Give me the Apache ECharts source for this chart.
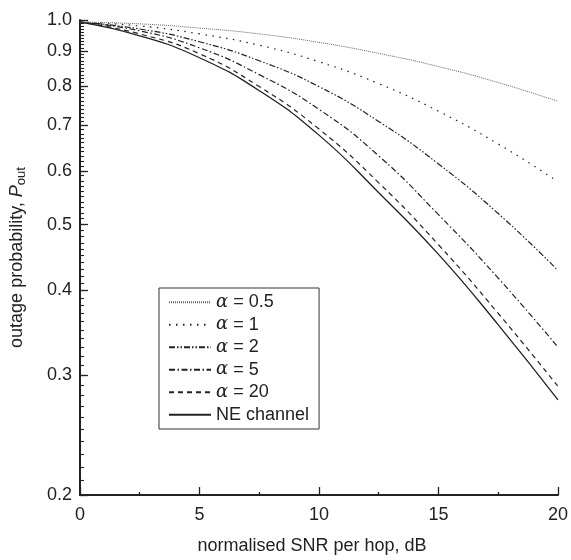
<!DOCTYPE html>
<html><head><meta charset="utf-8">
<script src="https://cdn.jsdelivr.net/npm/echarts@6/dist/echarts.min.js"></script>
<style>html,body{margin:0;padding:0;background:#fff}#c{width:571px;height:560px}</style>
</head><body><div id="c"></div>
<script>
const snr = [0, 2.5, 5, 7.5, 10, 12.5, 15, 17.5, 20];
const alpha05 = [0.993, 0.987, 0.973, 0.954, 0.927, 0.893, 0.854, 0.809, 0.759];
const alpha1 = [0.993, 0.980, 0.954, 0.918, 0.868, 0.806, 0.734, 0.657, 0.578];
const alpha2 = [0.993, 0.970, 0.929, 0.871, 0.798, 0.709, 0.614, 0.519, 0.428];
const alpha5 = [0.993, 0.964, 0.910, 0.831, 0.739, 0.631, 0.517, 0.417, 0.330];
const alpha20 = [0.993, 0.954, 0.892, 0.798, 0.691, 0.576, 0.467, 0.370, 0.289];
const neChannel = [0.993, 0.948, 0.880, 0.787, 0.677, 0.557, 0.452, 0.356, 0.276];
const seriesNames = ['α = 0.5', 'α = 1', 'α = 2', 'α = 5', 'α = 20', 'NE channel'];
const yMajorTicks = [0.2, 0.3, 0.4, 0.5, 0.6, 0.7, 0.8, 0.9, 1.0];

const yMinorTicks = [];
for (let k = 20; k <= 100; k++) yMinorTicks.push(k / 100);

const FONT = '"Liberation Sans", Arial, sans-serif';
const INK = '#222';
const styles = [
  {color: '#666', width: 1, type: [1, 1]},
  {color: INK, width: 1.2, type: [1.5, 5.5]},
  {color: INK, width: 1.2, type: [6, 2, 1.5, 2, 1.5, 2]},
  {color: INK, width: 1.2, type: [6, 2.5, 1.5, 2.5]},
  {color: INK, width: 1.2, type: [5, 4]},
  {color: INK, width: 1.3, type: 'solid'}
];
const dataSets = [alpha05, alpha1, alpha2, alpha5, alpha20, neChannel];

const chart = echarts.init(document.getElementById('c'), null, {renderer: 'canvas'});
const baseY = {
  type: 'log', logBase: 10, min: 0.2, max: 1.0, position: 'left', offset: 0,
  splitLine: {show: false}
};
chart.setOption({
  animation: false,
  backgroundColor: '#fff',
  textStyle: {fontFamily: FONT},
  grid: {left: 80, right: 11, top: 20, bottom: 62, containLabel: false},
  legend: {
    orient: 'vertical', left: 159, top: 288,
    data: seriesNames,
    itemWidth: 42, itemHeight: 14, itemGap: 0,
    itemStyle: {opacity: 0},
    borderColor: '#333', borderWidth: 1, borderRadius: 0,
    padding: [3, 10, 3, 9],
    textStyle: {fontSize: 18, color: INK, fontFamily: FONT, lineHeight: 22.5,
      rich: {i: {fontStyle: 'italic', fontSize: 18, fontFamily: '"DejaVu Serif", "Liberation Serif", serif', lineHeight: 22.5}}},
    formatter: n => n.startsWith('α') ? '{i|α}' + n.slice(1) : n
  },
  xAxis: {
    type: 'value', min: 0, max: 20, interval: 5,
    name: 'normalised SNR per hop, dB', nameLocation: 'middle', nameGap: 42,
    nameTextStyle: {fontSize: 18, color: INK, fontFamily: FONT, padding: [0, 14, 0, 0]},
    axisLine: {lineStyle: {color: INK, width: 2}},
    axisTick: {inside: true, length: 8, lineStyle: {color: INK, width: 1.3}},
    minorTick: {show: true, splitNumber: 2, length: 3, lineStyle: {color: INK, width: 1.3}},
    axisLabel: {fontSize: 18, color: INK, margin: 11, fontFamily: FONT},
    splitLine: {show: false}
  },
  yAxis: [
    Object.assign({}, baseY, {
      name: '{a|outage probability, }{i|P}{s|out}', nameLocation: 'middle', nameGap: 52,
      nameTextStyle: {fontSize: 18, color: INK, fontFamily: FONT,
        rich: {
          a: {fontSize: 18, color: INK, fontFamily: FONT},
          i: {fontSize: 18, color: INK, fontFamily: FONT, fontStyle: 'italic'},
          s: {fontSize: 13, color: INK, fontFamily: FONT, padding: [9, 0, 0, 0]}
        }},
      axisLine: {show: true, lineStyle: {color: INK, width: 2}},
      axisTick: {show: true, inside: true, length: 8, lineStyle: {color: INK, width: 1.3}, customValues: yMajorTicks},
      axisLabel: {show: true, fontSize: 18, color: INK, margin: 8, fontFamily: FONT, customValues: yMajorTicks,
        formatter: v => Number(v).toFixed(1)}
    }),
    Object.assign({}, baseY, {
      axisLine: {show: false},
      axisTick: {show: true, inside: true, length: 4, lineStyle: {color: INK, width: 1.1}, customValues: yMinorTicks},
      axisLabel: {show: false}
    })
  ],
  series: dataSets.map((d, i) => ({
    name: seriesNames[i], type: 'line', yAxisIndex: 0,
    data: snr.map((x, j) => [x, d[j]]),
    showSymbol: false, symbol: 'none', smooth: 0.5,
    lineStyle: styles[i], itemStyle: {color: styles[i].color},
    z: 10 - i
  }))
});
</script></body></html>
